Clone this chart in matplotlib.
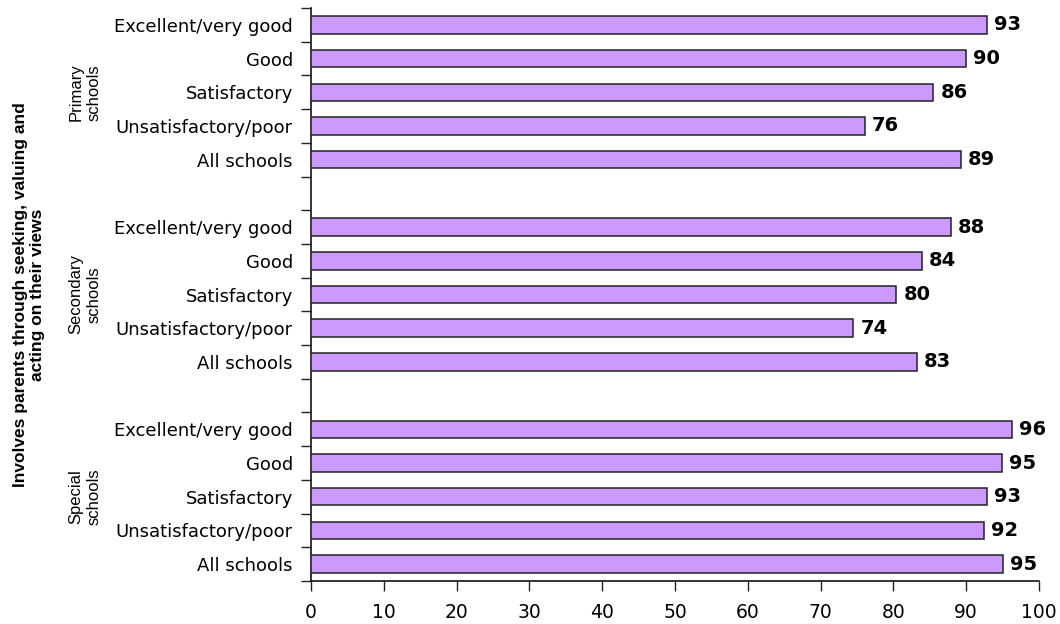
import matplotlib
matplotlib.use("Agg")
import matplotlib.pyplot as plt
from matplotlib.ticker import FixedLocator

groups = ["Primary\nschools", "Secondary\nschools", "Special\nschools"]
categories = ["Excellent/very good", "Good", "Satisfactory", "Unsatisfactory/poor", "All schools"]
primary = [92.9, 90.0, 85.5, 76.1, 89.3]
secondary = [87.9, 83.9, 80.4, 74.5, 83.2]
special = [96.25, 94.9, 92.9, 92.5, 95.1]
series = [primary, secondary, special]
xticks = [0, 10, 20, 30, 40, 50, 60, 70, 80, 90, 100]
ylabel = "Involves parents through seeking, valuing and\nacting on their views"

bar_color = "#CC99FF"

fig = plt.figure(figsize=(10.6, 6.24), dpi=100)
ax = fig.add_axes([311/1060, 1 - 581/624, (1039-311)/1060, (581-8)/624])

pos = []
labels = []
vals = []
group_centers = []
slot = 0
for gi, vals_g in enumerate(series):
    start = slot
    for c, v in zip(categories, vals_g):
        pos.append(slot)
        labels.append(c)
        vals.append(v)
        slot += 1
    group_centers.append((start + slot - 1) / 2)
    slot += 1  # empty gap slot
nslots = slot - 1

ax.barh(pos, vals, height=0.52, color=bar_color, edgecolor="#222222", linewidth=1.1, zorder=3)
for p, v in zip(pos, vals):
    ax.annotate(f"{v:.0f}", xy=(v, p), xytext=(5, 0), textcoords="offset points",
                ha="left", va="center", fontsize=14, fontweight="bold", color="black",
                family="DejaVu Sans")

ax.set_ylim(nslots - 0.5, -0.5)
ax.set_xlim(0, 100)
ax.set_yticks(pos)
ax.set_yticklabels(labels, fontsize=13, family="DejaVu Sans")
ax.tick_params(axis="y", which="major", length=0, pad=13)
ax.yaxis.set_minor_locator(FixedLocator([i - 0.5 for i in range(nslots + 1)]))
ax.tick_params(axis="y", which="minor", length=7, width=1, color="#222222")

ax.set_xticks(xticks)
ax.set_xticklabels([str(t) for t in xticks], fontsize=13.5, family="DejaVu Sans")
ax.tick_params(axis="x", length=7, width=1, color="#222222", pad=9)

for s in ["top", "right"]:
    ax.spines[s].set_visible(False)
for s in ["left", "bottom"]:
    ax.spines[s].set_color("black")
    ax.spines[s].set_linewidth(1.1)

for g, yc in zip(groups, group_centers):
    ax.annotate(g, xy=(85/1060, yc), xycoords=("figure fraction", "data"),
                ha="center", va="center", rotation=90, fontsize=12,
                family="Liberation Sans", linespacing=1.3)

fig.text(29/1060, 1 - 294.5/624, ylabel, rotation=90, ha="center", va="center",
         fontsize=12.5, fontweight="bold", family="Liberation Sans", linespacing=1.15,
         multialignment="center")

fig.savefig("out.png", dpi=100)
